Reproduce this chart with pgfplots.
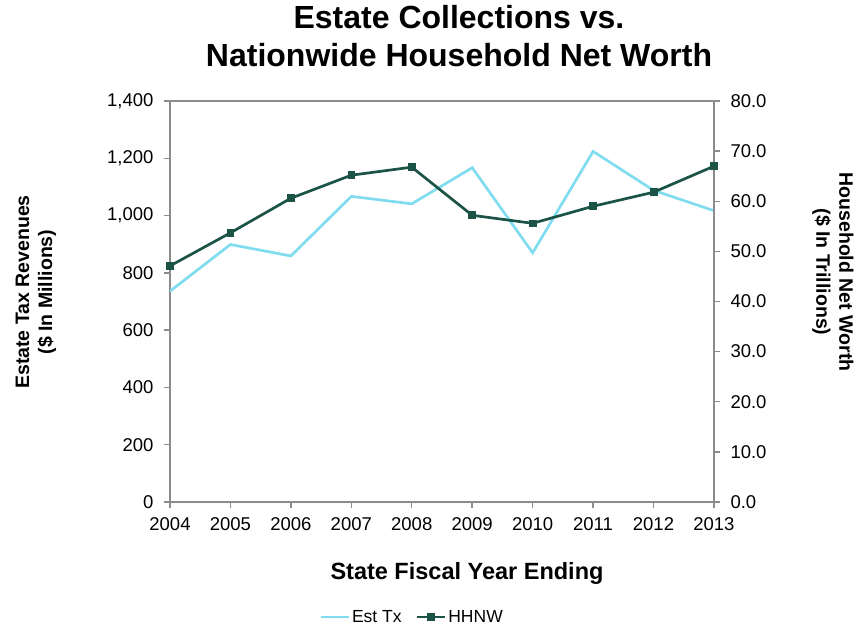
\documentclass[border=0pt]{standalone}
\usepackage{fontspec}
\setmainfont{Liberation Sans}
\usepackage{pgfplots}
\pgfplotsset{compat=1.18}
\definecolor{esttx}{HTML}{80DCEE}
\definecolor{hhnw}{HTML}{1B5446}
\definecolor{axgray}{HTML}{8C8C8C}
\begin{document}
\begin{tikzpicture}[x=1pt,y=1pt]
\useasboundingbox (0,0) rectangle (859,630);
\pgfplotsset{
 base/.style={
  scale only axis, width=544pt, height=401pt,
  at={(170pt,128pt)}, anchor=south west,
  xmin=2004, xmax=2013, xtick={2004,...,2013},
  axis line style={axgray, line width=1.4pt},
  tick style={axgray, line width=1.4pt},
  major tick length=6pt,
  tick align=outside,
  tick label style={font=\fontsize{18.5}{22}\selectfont},
  /pgf/number format/assume math mode=true,
 }
}
\begin{axis}[base,
  ymin=0, ymax=1400, ytick={0,200,...,1400},
  xtick pos=bottom, ytick pos=left,
  x tick label style={/pgf/number format/1000 sep={}, yshift=-6pt},
  y tick label style={/pgf/number format/1000 sep={,}, xshift=-7pt},
]
\addplot[esttx, line width=2.7pt] coordinates {
 (2004,736) (2005,899) (2006,859) (2007,1067) (2008,1041)
 (2009,1167) (2010,870) (2011,1224) (2012,1088) (2013,1017)};
\end{axis}
\begin{axis}[base,
  ymin=0, ymax=80, ytick={0,10,...,80},
  axis y line*=right, axis x line=none,
  y tick label style={/pgf/number format/fixed, /pgf/number format/fixed zerofill, /pgf/number format/precision=1, xshift=7pt},
  legend columns=2,
  legend style={at={(0.445,-0.2868)}, anchor=center, draw=none, fill=none,
    font=\fontsize{17.5}{21}\selectfont, /tikz/every even column/.append style={column sep=12pt}},
  legend image code/.code={\draw[mark repeat=2,mark phase=2] plot coordinates {(0pt,0pt)(14pt,0pt)(28pt,0pt)};},
]
\addlegendimage{esttx, line width=2.7pt}
\addlegendentry{Est Tx}
\addplot[hhnw, line width=2.7pt, mark=square*, mark size=3.4pt, mark options={line width=0.8pt}] coordinates {
 (2004,47.1) (2005,53.7) (2006,60.6) (2007,65.2) (2008,66.8)
 (2009,57.2) (2010,55.6) (2011,59.0) (2012,61.8) (2013,67.0)};
\addlegendentry{HHNW}
\end{axis}
\node[anchor=base, font=\fontsize{32}{38}\selectfont\bfseries] at (459,601) {Estate Collections vs.};
\node[anchor=base, font=\fontsize{32}{38}\selectfont\bfseries] at (459,563) {Nationwide Household Net Worth};
\node[anchor=base, font=\fontsize{23.5}{28}\selectfont\bfseries] at (467,51) {State Fiscal Year Ending};
\node[rotate=90, font=\fontsize{19.5}{23}\selectfont\bfseries, align=center] at (36,338) {Estate Tax Revenues\\(\$ In Millions)};
\node[rotate=-90, font=\fontsize{19.5}{23}\selectfont\bfseries, align=center] at (833,358) {Household Net Worth\\(\$ In Trillions)};
\end{tikzpicture}
\end{document}
